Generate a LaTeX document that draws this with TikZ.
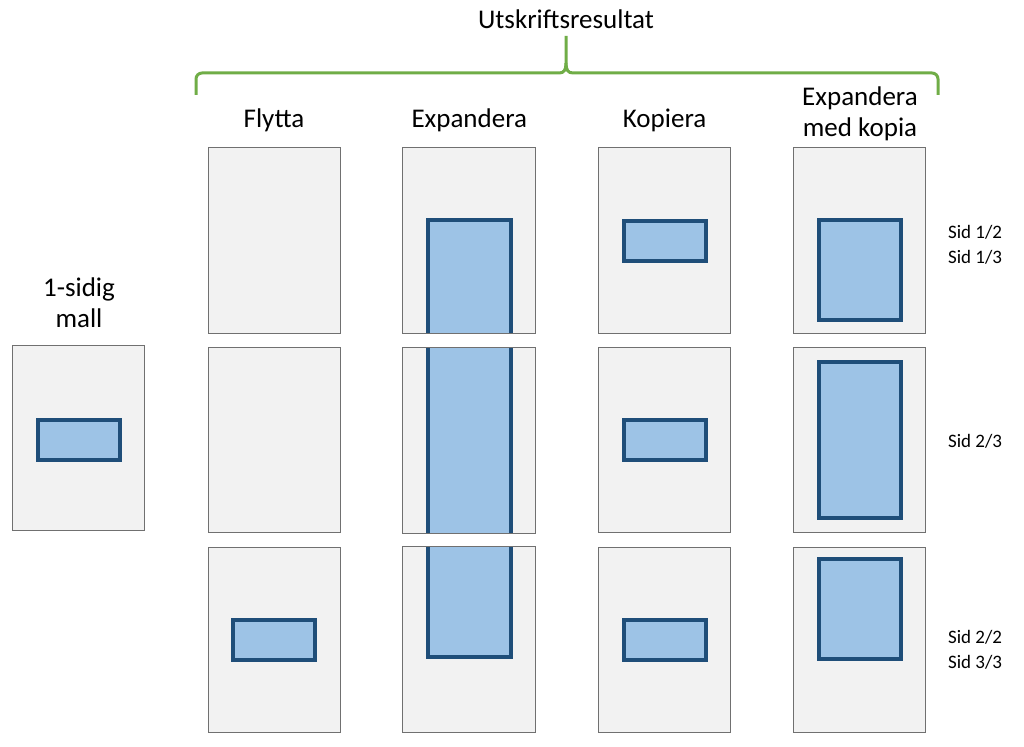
\documentclass[tikz,border=0pt]{standalone}
\usepackage{fontspec}
\setmainfont{Carlito}

\definecolor{pagefill}{HTML}{F2F2F2}
\definecolor{pageline}{HTML}{707070}
\definecolor{fieldfill}{HTML}{9DC3E6}
\definecolor{fieldline}{HTML}{1F4E79}
\definecolor{bracegreen}{HTML}{70AD47}

\begin{document}
\begin{tikzpicture}[x=1pt, y=-1pt,
	every node/.style={font=\fontsize{27}{31}\selectfont, inner sep=0pt},
	page/.style={draw=pageline, fill=pagefill, line width=1pt, minimum width=132pt, minimum height=185pt},
	field/.style={draw=fieldline, fill=fieldfill, line width=4pt, minimum width=82pt, minimum height=40pt},
	fieldpath/.style={draw=fieldline, fill=fieldfill, line width=4pt},
	head/.style={anchor=base, align=center},
	sidlabel/.style={font=\fontsize{19}{24.5}\selectfont, anchor=base, align=center}]
	\useasboundingbox (0,0) rectangle (1024,746);
	% template page
	\node[page] (tpl) at (78.5,437.5) {};
	\node[field] (tplfield) at (79,439.5) {};
	\node[head] (tpllabel) at (79,327) {1-sidig\\mall};
	% result pages, column \c and row \r
	\foreach \c in {1,3,4}
		\foreach \r in {1,2,3}
			\node[page] (p-\c-\r) at ({274+195.3*(\c-1)}, {240.5+199.5*(\r-1)}) {};
	% Flytta
	\node[field] (f-3) at (p-1-3.center) {};
	% Expandera: one long field, cut at the page edges
	\foreach \r in {1,2,3} {
		\node[page, draw=none] (p-2-\r) at (469.3, {240.5+199.5*(\r-1)}) {};
		\begin{scope}
			\clip (p-2-\r.south west) rectangle (p-2-\r.north east);
			\path[fieldpath] (428,220) rectangle (511,657);
		\end{scope}
		\draw[pageline, line width=1pt] (p-2-\r.south west) rectangle (p-2-\r.north east);
	}
	% Kopiera
	\foreach \r in {1,2,3}
		\node[field] (k-\r) at (p-3-\r.center) {};
	% Expandera med kopia
	\node[field, minimum height=100pt] (m-1) at (860,270) {};
	\node[field, minimum height=156pt] (m-2) at (860,440) {};
	\node[field, minimum height=100pt] (m-3) at (860,609) {};
	% headings and brace
	\node[head] (res) at (566,29) {Utskriftsresultat};
	\draw[bracegreen, line width=3pt] (196,95) [rounded corners=6pt] -- (196,73) -- (400,73) [sharp corners] -- (559,73) .. controls (564,73) and (566,70) .. (566,63) -- (566,36);
	\draw[bracegreen, line width=3pt] (938,95) [rounded corners=6pt] -- (938,73) -- (700,73) [sharp corners] -- (573,73) .. controls (568,73) and (566,70) .. (566,63);
	\node[head] (h-1) at (274,128) {Flytta};
	\node[head] (h-2) at (469.3,128) {Expandera};
	\node[head] (h-3) at (664.6,128) {Kopiera};
	\node[head] (h-4) at (860,137) {Expandera\\med kopia};
	% page numbers
	\node[sidlabel] (s-1) at (975,263) {Sid 1/2\\Sid 1/3};
	\node[sidlabel] (s-2) at (975,447) {Sid 2/3};
	\node[sidlabel] (s-3) at (975,668) {Sid 2/2\\Sid 3/3};
\end{tikzpicture}
\end{document}
